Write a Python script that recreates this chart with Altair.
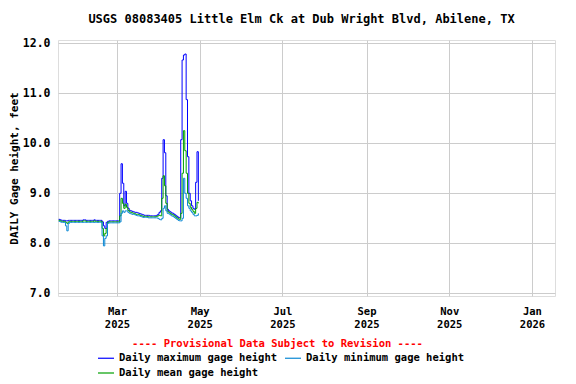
import altair as alt
import pandas as pd

# Daily dates (Jan 17 – Apr 30, 2025)
dates = pd.date_range("2025-01-17", "2025-04-30", freq="D").strftime("%Y-%m-%d").tolist()

daily_max = [
    # Jan 17-31
    8.48, 8.47, 8.46, 8.46, 8.46, 8.45, 8.45, 8.46, 8.46, 8.46, 8.46, 8.46, 8.46, 8.46, 8.46,
    # Feb 1-17
    8.46, 8.46, 8.46, 8.47, 8.47, 8.46, 8.46, 8.46, 8.46, 8.46, 8.46, 8.47, 8.46, 8.46, 8.46, 8.46, 8.46,
    # Feb 18-28
    8.43, 8.35, 8.30, 8.42, 8.44, 8.45, 8.45, 8.45, 8.45, 8.45, 8.45,
    # Mar 1-2
    8.45, 8.45,
    # Mar 3-20
    9.00, 9.59, 9.20, 8.75, 9.04, 8.80, 8.70, 8.66, 8.65, 8.64, 8.63, 8.62, 8.62, 8.61, 8.60, 8.59, 8.58, 8.57,
    # Mar 21-31
    8.56, 8.56, 8.56, 8.56, 8.55, 8.55, 8.55, 8.55, 8.55, 8.56, 8.58,
    # Apr 1-16
    8.62, 8.65, 9.30, 10.07, 9.81, 8.95, 8.68, 8.65, 8.63, 8.61, 8.60, 8.58, 8.56, 8.54, 8.52, 8.51,
    # Apr 17-30
    10.07, 11.66, 11.76, 11.78, 10.87, 9.73, 9.00, 8.85, 8.75, 8.70, 8.68, 9.22, 9.83, 8.85,
]

daily_mean = [
    8.46, 8.45, 8.44, 8.44, 8.44, 8.42, 8.40, 8.43, 8.44, 8.44, 8.44, 8.44, 8.44, 8.44, 8.44,
    8.44, 8.44, 8.44, 8.45, 8.45, 8.44, 8.44, 8.44, 8.44, 8.44, 8.44, 8.45, 8.44, 8.44, 8.44, 8.44, 8.44,
    8.30, 8.15, 8.20, 8.30, 8.42, 8.43, 8.43, 8.43, 8.43, 8.43, 8.43,
    8.43, 8.43,
    8.55, 8.90, 8.80, 8.70, 8.78, 8.72, 8.66, 8.63, 8.62, 8.61, 8.60, 8.59, 8.58, 8.58, 8.57, 8.56, 8.55, 8.54,
    8.54, 8.54, 8.54, 8.53, 8.53, 8.53, 8.53, 8.53, 8.53, 8.54, 8.55,
    8.56, 8.55, 8.90, 9.35, 9.15, 8.80, 8.64, 8.62, 8.60, 8.58, 8.57, 8.55, 8.53, 8.51, 8.49, 8.48,
    8.60, 9.40, 10.25, 9.85, 9.40, 9.00, 8.80, 8.72, 8.68, 8.64, 8.60, 8.70, 8.82, 8.80,
]

daily_min = [
    8.44, 8.43, 8.42, 8.42, 8.42, 8.35, 8.25, 8.40, 8.42, 8.42, 8.42, 8.42, 8.42, 8.42, 8.42,
    8.42, 8.42, 8.42, 8.42, 8.42, 8.42, 8.42, 8.42, 8.42, 8.42, 8.42, 8.42, 8.42, 8.42, 8.42, 8.42, 8.42,
    8.15, 7.95, 8.10, 8.15, 8.40, 8.41, 8.41, 8.41, 8.41, 8.41, 8.41,
    8.41, 8.41,
    8.43, 8.60, 8.65, 8.62, 8.65, 8.65, 8.62, 8.60, 8.59, 8.58, 8.58, 8.57, 8.56, 8.55, 8.55, 8.54, 8.53, 8.52,
    8.52, 8.52, 8.52, 8.51, 8.51, 8.51, 8.51, 8.51, 8.51, 8.51, 8.50,
    8.48, 8.47, 8.50, 8.70, 8.75, 8.65, 8.60, 8.59, 8.57, 8.55, 8.54, 8.52, 8.50, 8.48, 8.46, 8.45,
    8.45, 8.50, 9.30, 9.00, 8.90, 8.75, 8.70, 8.65, 8.62, 8.58, 8.55, 8.55, 8.56, 8.60,
]

assert len(dates) == len(daily_max) == len(daily_mean) == len(daily_min)

# Legend entries (laid out column by column: max, mean | min)
series_names = ["Daily maximum gage height", "Daily mean gage height", "Daily minimum gage height"]
series_colors = ["#0000ff", "#00a000", "#0a88d4"]

# Rows ordered max, mean, min so that min is drawn on top
df = pd.DataFrame({
    "date": dates,
    series_names[0]: daily_max,
    series_names[1]: daily_mean,
    series_names[2]: daily_min,
})
long_df = df.melt(id_vars="date", var_name="series", value_name="height")

FONT = "DejaVu Sans Mono"

x_ticks = [
    alt.DateTime(year=2025, month=3, date=1, utc=True),
    alt.DateTime(year=2025, month=5, date=1, utc=True),
    alt.DateTime(year=2025, month=7, date=1, utc=True),
    alt.DateTime(year=2025, month=9, date=1, utc=True),
    alt.DateTime(year=2025, month=11, date=1, utc=True),
    alt.DateTime(year=2026, month=1, date=1, utc=True),
]

x_enc = alt.X(
    "date:T",
    scale=alt.Scale(
        type="utc",
        domain=[
            alt.DateTime(year=2025, month=1, date=16, hours=12, utc=True),
            alt.DateTime(year=2026, month=1, date=18, utc=True),
        ],
    ),
    axis=alt.Axis(
        values=x_ticks,
        labelExpr="[utcFormat(datum.value, '%b'), utcFormat(datum.value, '%Y')]",
        labelFont=FONT, labelFontSize=10.5, labelFontWeight="bold", labelColor="black",
        labelLineHeight=13, labelPadding=10, tickSize=0, domain=False,
        grid=True, gridColor="#cccccc",
        title="---- Provisional Data Subject to Revision ----",
        titleFont=FONT, titleFontSize=10.5, titleFontWeight="bold", titleColor="red",
        titleX=219, titleY=47, titleAlign="center", titleBaseline="middle",
    ),
)

y_enc = alt.Y(
    "height:Q",
    scale=alt.Scale(domain=[6.95, 12.06], nice=False, zero=False),
    axis=alt.Axis(
        values=[7, 8, 9, 10, 11, 12], format=".1f",
        labelFont=FONT, labelFontSize=11.5, labelFontWeight="bold", labelColor="black",
        labelPadding=8, tickSize=0, domain=False,
        grid=True, gridColor="#cccccc",
        title="DAILY Gage height, feet",
        titleFont=FONT, titleFontSize=11, titleFontWeight="bold", titleColor="black",
        titlePadding=3,
    ),
)

color_enc = alt.Color(
    "series:N",
    scale=alt.Scale(domain=series_names, range=series_colors),
    sort=series_names,
    legend=alt.Legend(
        title=None, orient="none", legendX=39, legendY=309, columns=2,
        symbolType="stroke", symbolSize=256, symbolStrokeWidth=1.2,
        labelFont=FONT, labelFontSize=10.5, labelFontWeight="bold", labelColor="black",
        labelOffset=4, columnPadding=4, rowPadding=0, padding=0, labelLimit=400,
    ),
)

chart = alt.Chart(long_df).mark_line(interpolate="step-after", strokeWidth=1).encode(
    x=x_enc, y=y_enc, color=color_enc
).properties(
    width=497,
    height=256,
    autosize=alt.AutoSizeParams(type="none"),
    padding={"left": 50, "top": 32, "right": 11, "bottom": 86},
    title=alt.Title(
        "USGS 08083405 Little Elm Ck at Dub Wright Blvd, Abilene, TX",
        font=FONT, fontSize=12, fontWeight="bold", color="black",
        anchor="middle", offset=11, dx=-5,
    ),
).configure_view(stroke="black", strokeWidth=1).configure(background="white")

chart.save("out.html", embed_options={"renderer": "svg", "actions": False})
